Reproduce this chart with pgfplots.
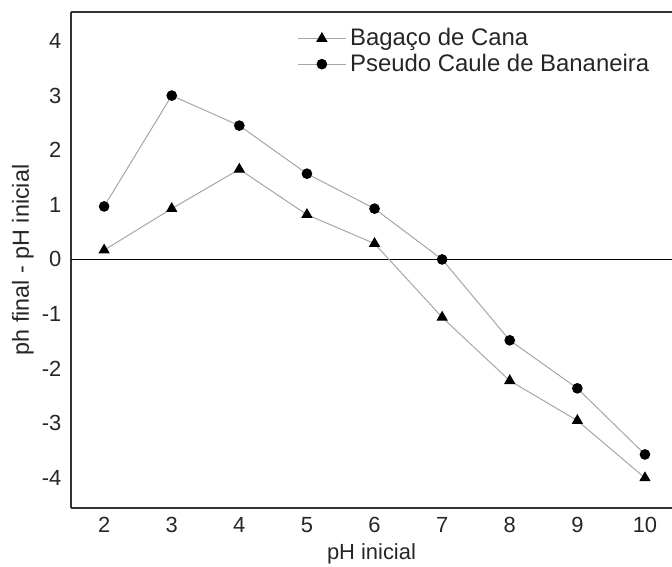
\documentclass[border=0pt]{standalone}
\usepackage{fontspec}
\setmainfont{Liberation Sans}
\usepackage{pgfplots}
\pgfplotsset{compat=1.18}
\begin{document}
\fontsize{11}{13}\selectfont
\begin{tikzpicture}
\begin{axis}[
  scale only axis,
  width=300.5bp, height=248bp,
  xmin=1.51, xmax=10.4,
  ymin=-4.55, ymax=4.53,
  axis x line=box, axis y line=left,
  axis line style={line width=0.75bp, draw=black!80, -},
  xtick={2,...,10}, ytick={-4,...,4},
  major tick length=0pt,
  /pgf/number format/assume math mode=true,
  tick label style={font=\fontsize{11}{13}\selectfont, text=black!85},
  yticklabel style={xshift=-1bp},
  xticklabel style={yshift=-1bp},
  label style={text=black!85},
  xlabel={pH inicial},
  ylabel={ph final - pH inicial},
  xlabel style={font=\fontsize{11}{13}\selectfont, yshift=2.5bp},
  ylabel style={font=\fontsize{11.7}{13}\selectfont, yshift=-3.5bp},
  legend style={draw=none, fill=none, at={(0.373,0.98)}, anchor=north west,
    font=\fontsize{12}{13}\selectfont, text=black!85, row sep=-1.5bp,
    inner sep=1pt},
  legend cell align=left,
  legend image code/.code={\draw[mark repeat=2,mark phase=2,#1] plot coordinates {(0cm,0cm) (0.42cm,0cm) (0.84cm,0cm)};},
]
\addplot[black, line width=0.6bp, forget plot] coordinates {(1.51,0) (10.4,0)};
\addplot[gray!70, line width=0.5bp, mark=triangle*, mark size=2.8bp,
  mark options={fill=black, draw=black}] coordinates {
  (2,0.17) (3,0.93) (4,1.65) (5,0.82) (6,0.29) (7,-1.06) (8,-2.22) (9,-2.95) (10,-4.0)};
\addlegendentry{Bagaço de Cana}
\addplot[gray!70, line width=0.5bp, mark=*, mark size=2.4bp,
  mark options={fill=black, draw=black}] coordinates {
  (2,0.97) (3,3.0) (4,2.45) (5,1.57) (6,0.93) (7,0) (8,-1.48) (9,-2.36) (10,-3.57)};
\addlegendentry{Pseudo Caule de Bananeira}
\coordinate (bl) at (rel axis cs:0,0);
\coordinate (tr) at (rel axis cs:1,1);
\end{axis}
\pgfresetboundingbox
\path ([xshift=-35.5bp,yshift=-29.5bp]bl) rectangle ([yshift=6bp]tr);
\end{tikzpicture}
\end{document}
